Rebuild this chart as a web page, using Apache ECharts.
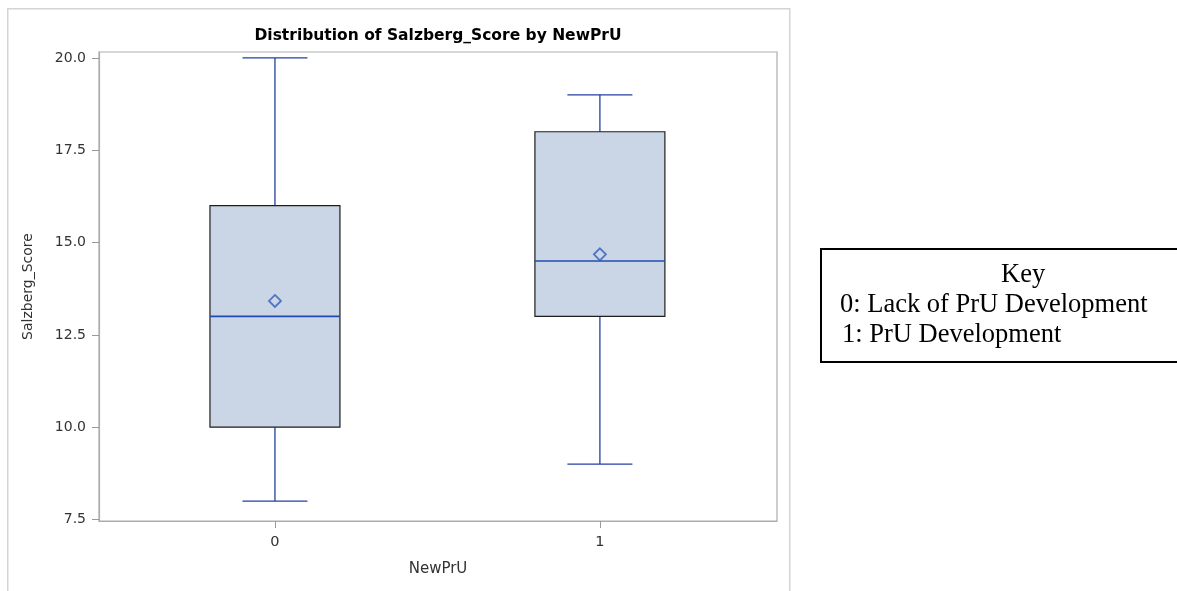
<!DOCTYPE html>
<html>
<head>
<meta charset="utf-8">
<title>Distribution of Salzberg_Score by NewPrU</title>
<script src="https://cdn.jsdelivr.net/npm/echarts@6/dist/echarts.min.js"></script>
<style>
  html, body { margin: 0; padding: 0; background: #ffffff; }
  #chart { width: 1177px; height: 591px; }
</style>
</head>
<body>
<div id="chart"></div>
<script>
// Groups of NewPrU and their five-number summaries of Salzberg_Score
const categories = ['0', '1'];
const mins    = [8, 9];
const q1s     = [10, 13];
const medians = [13, 14.5];
const q3s     = [16, 18];
const maxs    = [20, 19];
const means   = [13.42, 14.68];

// Y axis tick values
const yTicks = [7.5, 10, 12.5, 15, 17.5, 20];

// Key text
const keyTitle = 'Key';
const keyLines = ['0: Lack of PrU Development', '1: PrU Development'];

const boxData = categories.map((c, i) => [i, mins[i], q1s[i], medians[i], q3s[i], maxs[i]]);
const meanData = categories.map((c, i) => [i, means[i]]);

const FONT = '"DejaVu Sans", "Liberation Sans", sans-serif';
const SERIF = '"Liberation Serif", "Times New Roman", serif';
const WHISKER = '#243ea0';
const MEDIAN = '#1f4cb0';

function renderBox(params, api) {
  const x = api.value(0);
  const lo = api.coord([x, api.value(1)]);
  const b1 = api.coord([x, api.value(2)]);
  const md = api.coord([x, api.value(3)]);
  const b3 = api.coord([x, api.value(4)]);
  const hi = api.coord([x, api.value(5)]);
  const boxW = api.size([0.4, 0])[0];
  const capW = api.size([0.2, 0])[0];
  const cx = lo[0];
  const lineStyle = { stroke: WHISKER, lineWidth: 1.3 };
  return {
    type: 'group',
    children: [
      { type: 'line', shape: { x1: cx, y1: hi[1], x2: cx, y2: b3[1] }, style: lineStyle },
      { type: 'line', shape: { x1: cx, y1: b1[1], x2: cx, y2: lo[1] }, style: lineStyle },
      { type: 'line', shape: { x1: cx - capW / 2, y1: hi[1], x2: cx + capW / 2, y2: hi[1] }, style: lineStyle },
      { type: 'line', shape: { x1: cx - capW / 2, y1: lo[1], x2: cx + capW / 2, y2: lo[1] }, style: lineStyle },
      { type: 'rect', shape: { x: cx - boxW / 2, y: b3[1], width: boxW, height: b1[1] - b3[1] },
        style: { fill: '#cad5e5', stroke: '#1e1e1e', lineWidth: 1.2 } },
      { type: 'line', shape: { x1: cx - boxW / 2, y1: md[1], x2: cx + boxW / 2, y2: md[1] },
        style: { stroke: MEDIAN, lineWidth: 1.6 } }
    ]
  };
}

const chart = echarts.init(document.getElementById('chart'), null, { renderer: 'canvas' });

chart.setOption({
  animation: false,
  backgroundColor: '#ffffff',
  title: {
    text: 'Distribution of Salzberg_Score by NewPrU',
    left: 433,
    textAlign: 'center',
    top: 23,
    textStyle: { fontFamily: FONT, fontSize: 15.5, fontWeight: 'bold', color: '#000000' }
  },
  grid: {
    left: 99, right: 400, top: 52, bottom: 70,
    show: true, borderColor: '#a9adb1', borderWidth: 1.2, backgroundColor: '#ffffff'
  },
  xAxis: {
    type: 'value',
    min: -0.5415,
    max: 1.545,
    name: 'NewPrU',
    nameLocation: 'middle',
    nameGap: 41,
    nameTextStyle: { fontFamily: FONT, fontSize: 15, color: '#333333' },
    axisLine: { show: true, onZero: false, lineStyle: { color: '#a9adb1', width: 1.2 } },
    axisTick: { show: true, length: 7, customValues: categories.map((c, i) => i), lineStyle: { color: '#999999' } },
    axisLabel: {
      customValues: categories.map((c, i) => i),
      formatter: v => categories[Math.round(v)],
      margin: 14,
      fontFamily: FONT, fontSize: 14.5, color: '#333333'
    },
    splitLine: { show: false }
  },
  yAxis: {
    type: 'value',
    min: 7.46,
    max: 20.16,
    name: 'Salzberg_Score',
    nameLocation: 'middle',
    nameGap: 64,
    nameRotate: 90,
    nameTextStyle: { fontFamily: FONT, fontSize: 14, color: '#333333' },
    axisLine: { show: true, onZero: false, lineStyle: { color: '#a9adb1', width: 1.2 } },
    axisTick: { show: true, length: 7, customValues: yTicks, lineStyle: { color: '#999999' } },
    axisLabel: {
      customValues: yTicks,
      formatter: v => v.toFixed(1),
      margin: 13,
      fontFamily: FONT, fontSize: 14, color: '#333333'
    },
    splitLine: { show: false }
  },
  series: [
    {
      type: 'custom',
      name: 'Salzberg_Score',
      renderItem: renderBox,
      encode: { x: 0, y: [1, 2, 3, 4, 5] },
      data: boxData,
      z: 2
    },
    {
      type: 'scatter',
      name: 'Mean',
      symbol: 'diamond',
      symbolSize: [12, 12],
      itemStyle: { color: 'rgba(0,0,0,0)', borderColor: '#2f5cbc', borderWidth: 1.8 },
      data: meanData,
      z: 3
    }
  ],
  graphic: [
    // outer frame of the plot image
    { type: 'rect', left: 7, top: 8, z: -10, silent: true,
      shape: { width: 782, height: 600 },
      style: { fill: 'transparent', stroke: '#d4d4d4', lineWidth: 1.5 } },
    // key box
    { type: 'rect', left: 820, top: 248, silent: true,
      shape: { width: 380, height: 113 },
      style: { fill: '#ffffff', stroke: '#000000', lineWidth: 2 } },
    { type: 'text', left: 1001, top: 262, silent: true,
      style: { text: keyTitle, fontFamily: SERIF, fontSize: 26.5, fill: '#000000', textAlign: 'center' } },
    { type: 'text', left: 840, top: 292, silent: true,
      style: { text: keyLines[0], fontFamily: SERIF, fontSize: 26.5, fill: '#000000' } },
    { type: 'text', left: 842, top: 322, silent: true,
      style: { text: keyLines[1], fontFamily: SERIF, fontSize: 26.5, fill: '#000000' } }
  ]
});
</script>
</body>
</html>
